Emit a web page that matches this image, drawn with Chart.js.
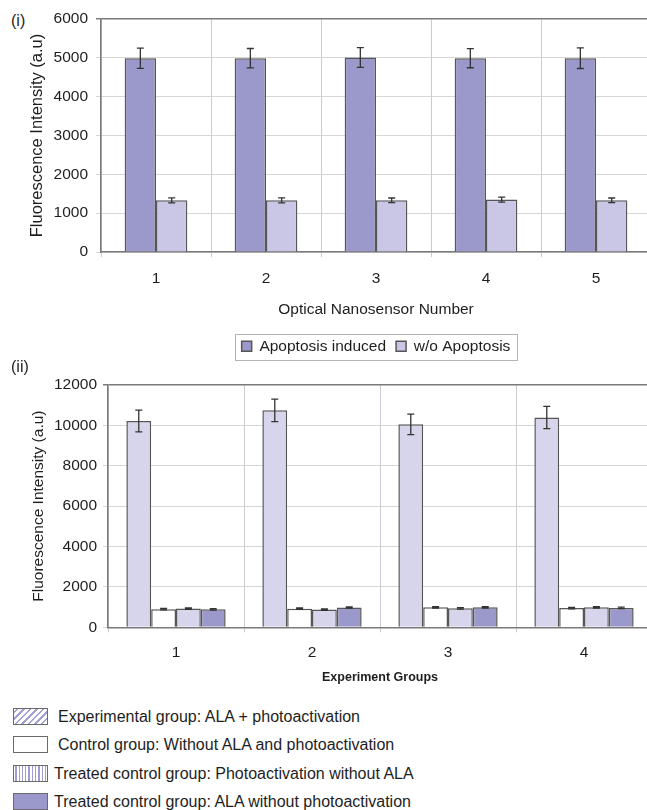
<!DOCTYPE html>
<html>
<head>
<meta charset="utf-8">
<script src="https://cdn.jsdelivr.net/npm/chart.js@4.4.0/dist/chart.umd.min.js"></script>
<style>
  html, body { margin: 0; padding: 0; background: #fff; overflow: hidden; width: 647px; height: 810px; }
  body { position: relative; font-family: "Liberation Sans", Arial, sans-serif; color: #1e1e1e; }
  canvas { position: absolute; left: 0; }
  .tag { position: absolute; font-size: 16px; line-height: 20px; }
  .sw { position: absolute; left: 13px; width: 33px; height: 15px; border: 1.5px solid #6a6a6a; }
  .txt { position: absolute; font-size: 16px; line-height: 20px; white-space: nowrap; }
</style>
</head>
<body>
<div class="tag" style="left:11px; top:11px;">(i)</div>
<canvas id="sensorChart" width="655" height="364" style="top:0;"></canvas>

<div class="tag" style="left:11px; top:357px;">(ii)</div>
<canvas id="groupChart" width="655" height="325" style="top:365px;"></canvas>

<div id="groupKey"></div>

<script>
// ---- Panel (i): fluorescence per optical nanosensor ----
const sensorLabels = ['1', '2', '3', '4', '5'];
const apoptosisInduced = [4990, 4990, 5010, 4990, 4990];
const apoptosisInducedErr = [260, 250, 255, 245, 265];
const withoutApoptosis = [1330, 1330, 1330, 1350, 1330];
const withoutApoptosisErr = [65, 65, 60, 65, 60];
const sensorSeriesNames = ['Apoptosis induced', 'w/o Apoptosis'];

// ---- Panel (ii): fluorescence per experiment group ----
const groupLabels = ['1', '2', '3', '4'];
const experimental = [10220, 10745, 10050, 10390];
const experimentalErr = [540, 555, 510, 550];
const controlGroup = [900, 920, 990, 950];
const controlErr = [35, 35, 35, 35];
const photoNoAla = [930, 880, 940, 990];
const photoNoAlaErr = [35, 35, 35, 35];
const alaNoPhoto = [890, 980, 990, 960];
const alaNoPhotoErr = [35, 35, 35, 35];
const groupSeriesNames = [
  'Experimental group: ALA + photoactivation',
  'Control group: Without ALA and photoactivation',
  'Treated control group: Photoactivation without ALA',
  'Treated control group: ALA without photoactivation'
];

const FONT = '"Liberation Sans", Arial, sans-serif';
const INK = '#1e1e1e';
const DARK = '#9b98cb';
const LIGHT1 = '#c9c7e5';
const LIGHT2 = '#d6d5ec';
const EDGE = '#565656';
const AXIS = '#7a7a7a';
const plainNumber = v => String(v);

// vertical error bars drawn from each bar's value +/- its error
const errorBarPlugin = {
  id: 'errorBars',
  afterDatasetsDraw(chart, args, opts) {
    const ctx = chart.ctx;
    const y = chart.scales.y;
    chart.data.datasets.forEach((ds, i) => {
      if (!ds.errorBars) return;
      const meta = chart.getDatasetMeta(i);
      meta.data.forEach((bar, j) => {
        const v = ds.data[j], e = ds.errorBars[j];
        const top = y.getPixelForValue(v + e);
        const bot = y.getPixelForValue(v - e);
        const cap = opts.cap;
        ctx.save();
        ctx.strokeStyle = opts.color;
        ctx.lineWidth = opts.width;
        ctx.beginPath();
        ctx.moveTo(bar.x, top); ctx.lineTo(bar.x, bot);
        ctx.moveTo(bar.x - cap, top); ctx.lineTo(bar.x + cap, top);
        ctx.moveTo(bar.x - cap, bot); ctx.lineTo(bar.x + cap, bot);
        ctx.stroke();
        ctx.restore();
      });
    });
  }
};

// thin frame around the legend row
const legendFrame = {
  id: 'legendFrame',
  afterDraw(chart) {
    const lg = chart.legend;
    if (!lg || !lg.legendHitBoxes || !lg.legendHitBoxes.length) return;
    const hb = lg.legendHitBoxes;
    const last = hb[hb.length - 1];
    const l = hb[0].left - 6.5, r = last.left + last.width + 6.5;
    const t = hb[0].top - 5, b = hb[0].top + hb[0].height + 5;
    const ctx = chart.ctx;
    ctx.save();
    ctx.strokeStyle = '#b4b4b4';
    ctx.lineWidth = 1;
    ctx.strokeRect(Math.round(l) + 0.5, Math.round(t) + 0.5, Math.round(r - l), Math.round(b - t));
    ctx.restore();
  }
};

Chart.defaults.font.family = FONT;
Chart.defaults.color = INK;

new Chart(document.getElementById('sensorChart'), {
  type: 'bar',
  data: {
    labels: sensorLabels,
    datasets: [
      { label: sensorSeriesNames[0], data: apoptosisInduced, errorBars: apoptosisInducedErr,
        backgroundColor: DARK, borderColor: EDGE, borderWidth: 1.5 },
      { label: sensorSeriesNames[1], data: withoutApoptosis, errorBars: withoutApoptosisErr,
        backgroundColor: LIGHT1, borderColor: EDGE, borderWidth: 1.5 }
    ]
  },
  options: {
    responsive: false,
    animation: false,
    datasets: { bar: { categoryPercentage: 0.57, barPercentage: 1.0 } },
    layout: { padding: { top: 19, right: 4, left: 0, bottom: 0 } },
    plugins: {
      legend: {
        position: 'bottom', fullSize: false,
        labels: { boxWidth: 10, boxHeight: 10, padding: 10, color: INK, font: { size: 15.5 } }
      },
      tooltip: { enabled: false },
      errorBars: { color: '#333', width: 1.3, cap: 3.5 }
    },
    scales: {
      x: {
        grid: { offset: true, color: '#cacad2', tickLength: 5 },
        border: { color: AXIS, width: 1.5 },
        ticks: { padding: 12, color: INK, font: { size: 15.5 } },
        title: { display: true, text: 'Optical Nanosensor Number', color: INK,
                 font: { size: 15.5 }, padding: { top: 0, bottom: 9 } },
        afterFit(s) { s.height = 76.5; }
      },
      y: {
        min: 0, max: 6000,
        ticks: { stepSize: 1000, padding: 8, color: INK, font: { size: 15.5 }, callback: plainNumber },
        grid: { color: c => (c.tick && c.tick.value === 6000) ? AXIS : '#d6d6d6', tickLength: 5,
                lineWidth: c => (c.tick && c.tick.value === 6000) ? 1.5 : 1 },
        border: { color: AXIS, width: 1.5 },
        title: { display: true, text: 'Fluorescence Intensity (a.u)', color: INK,
                 font: { size: 16.5 }, padding: { top: 28, bottom: 0 } },
        afterFit(s) { s.width = 101; }
      }
    }
  },
  plugins: [errorBarPlugin, legendFrame]
});

const groupFills = [LIGHT2, '#ffffff', LIGHT2, DARK];
new Chart(document.getElementById('groupChart'), {
  type: 'bar',
  data: {
    labels: groupLabels,
    datasets: [
      { label: groupSeriesNames[0], data: experimental, errorBars: experimentalErr },
      { label: groupSeriesNames[1], data: controlGroup, errorBars: controlErr },
      { label: groupSeriesNames[2], data: photoNoAla, errorBars: photoNoAlaErr },
      { label: groupSeriesNames[3], data: alaNoPhoto, errorBars: alaNoPhotoErr }
    ].map((d, i) => Object.assign(d, { backgroundColor: groupFills[i], borderColor: EDGE, borderWidth: 1.5 }))
  },
  options: {
    responsive: false,
    animation: false,
    datasets: { bar: { categoryPercentage: 0.73, barPercentage: 1.0 } },
    layout: { padding: { top: 20, right: 3, left: 0, bottom: 0 } },
    plugins: {
      legend: { display: false },
      tooltip: { enabled: false },
      errorBars: { color: '#333', width: 1.3, cap: 3.5 }
    },
    scales: {
      x: {
        grid: { offset: true, color: '#cacad2', tickLength: 5 },
        border: { color: AXIS, width: 1.5 },
        ticks: { padding: 11.4, color: INK, font: { size: 15.5 } },
        title: { display: true, text: 'Experiment Groups', color: INK,
                 font: { size: 12.5, weight: 'bold' }, padding: { top: 0, bottom: 4.5 } },
        afterFit(s) { s.height = 62.7; }
      },
      y: {
        min: 0, max: 12000,
        ticks: { stepSize: 2000, padding: 6, color: INK, font: { size: 15.5 }, callback: plainNumber },
        grid: { color: c => (c.tick && c.tick.value === 12000) ? AXIS : '#d6d6d6', tickLength: 5,
                lineWidth: c => (c.tick && c.tick.value === 12000) ? 1.5 : 1 },
        border: { color: AXIS, width: 1.5 },
        title: { display: true, text: 'Fluorescence Intensity (a.u)', color: INK,
                 font: { size: 15.5 }, padding: { top: 29, bottom: 0 } },
        afterFit(s) { s.width = 108; }
      }
    }
  },
  plugins: [errorBarPlugin]
});

// key for panel (ii): hatched, plain, striped and solid swatches
const keySwatches = [
  'repeating-linear-gradient(135deg, #ffffff 0 1.6px, #a3a0d4 1.6px 3.4px, #ffffff 3.4px 4.6px)',
  '#ffffff',
  'repeating-linear-gradient(90deg, #ffffff 0 1.3px, #9f9cd2 1.3px 2.6px, #ffffff 2.6px 3.3px)',
  DARK
];
const keyRows = [717, 745, 774, 802];
const keyTextLeft = [58, 58, 54, 54];
const key = document.getElementById('groupKey');
groupSeriesNames.forEach((name, i) => {
  const sw = document.createElement('div');
  sw.className = 'sw';
  sw.style.top = (keyRows[i] - 9) + 'px';
  sw.style.background = keySwatches[i];
  key.appendChild(sw);
  const t = document.createElement('div');
  t.className = 'txt';
  t.style.top = (keyRows[i] - 10) + 'px';
  t.style.left = keyTextLeft[i] + 'px';
  t.textContent = name;
  key.appendChild(t);
});
</script>
</body>
</html>
